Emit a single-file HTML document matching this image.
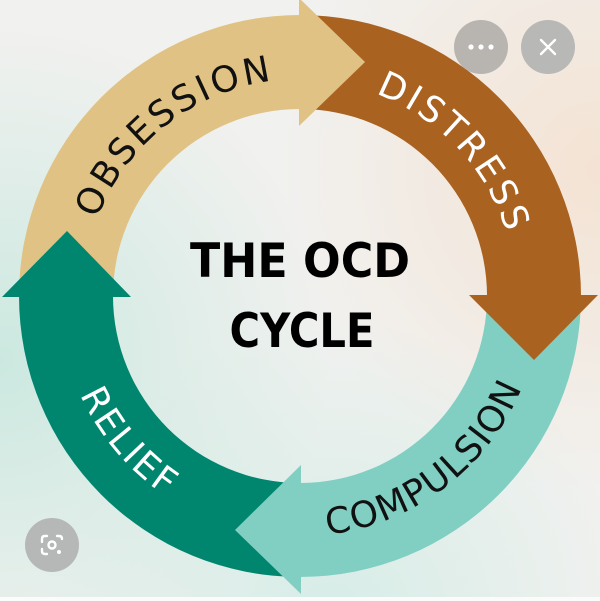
<!DOCTYPE html>
<html>
<head>
<meta charset="utf-8">
<style>
html,body{margin:0;padding:0;background:#f1f1ef;}
svg{display:block;}
</style>
</head>
<body>
<svg width="600" height="601" viewBox="0 0 600 601" xmlns="http://www.w3.org/2000/svg">
  <defs>
    <radialGradient id="gTeal" cx="0" cy="360" r="330" gradientUnits="userSpaceOnUse">
      <stop offset="0" stop-color="#c9e8df" stop-opacity="0.95"/>
      <stop offset="1" stop-color="#c9e8df" stop-opacity="0"/>
    </radialGradient>
    <radialGradient id="gTeal2" cx="330" cy="620" r="300" gradientUnits="userSpaceOnUse">
      <stop offset="0" stop-color="#d3ece6" stop-opacity="0.9"/>
      <stop offset="1" stop-color="#d3ece6" stop-opacity="0"/>
    </radialGradient>
    <radialGradient id="gWarm" cx="600" cy="170" r="320" gradientUnits="userSpaceOnUse">
      <stop offset="0" stop-color="#f4e2d2" stop-opacity="0.95"/>
      <stop offset="1" stop-color="#f4e2d2" stop-opacity="0"/>
    </radialGradient>
    <path id="pObs" d="M 85.1 326.2 A 217 217 0 0 1 381.3 94.8"/>
    <path id="pDis" d="M 251.4 85.5 A 216 216 0 0 1 506.6 359.2"/>
    <path id="pCom" d="M 207 517.3 A 240 240 0 0 0 538.1 265.9"/>
    <path id="pRel" d="M 73 215.1 A 241 241 0 0 0 343.5 533"/>
  </defs>

  <!-- background -->
  <rect x="0" y="0" width="600" height="601" fill="#f1f1ef"/>
  <rect x="0" y="0" width="600" height="601" fill="url(#gWarm)"/>
  <rect x="0" y="0" width="600" height="601" fill="url(#gTeal2)"/>
  <rect x="0" y="0" width="600" height="601" fill="url(#gTeal)"/>
  <rect x="0" y="597" width="600" height="4" fill="#fbfbfb"/>

  <!-- ring bodies -->
  <path d="M 19 296 A 281 281 0 0 1 300 15 L 300 109 A 187 187 0 0 0 113 296 Z" fill="#dfc284"/>
  <path d="M 300 15 A 281 281 0 0 1 581 296 L 487 296 A 187 187 0 0 0 300 109 Z" fill="#a9621f"/>
  <path d="M 581 296 A 281 281 0 0 1 300 577 L 300 483 A 187 187 0 0 0 487 296 Z" fill="#80cfc2"/>
  <path d="M 300 577 A 281 281 0 0 1 19 296 L 113 296 A 187 187 0 0 0 300 483 Z" fill="#00866f"/>

  <!-- arrowheads (bases overlap own body to avoid seams) -->
  <polygon points="299,-2 299,126 365,62" fill="#dfc284"/>
  <polygon points="469,295 598,295 534,360" fill="#a9621f"/>
  <polygon points="301,465 301,594 235,530" fill="#80cfc2"/>
  <polygon points="2,297 131,297 67,231" fill="#00866f"/>

  <!-- arc labels -->
  <text font-family="'DejaVu Sans','Liberation Sans',sans-serif" font-size="36" fill="#111" letter-spacing="3">
    <textPath href="#pObs" startOffset="50%" text-anchor="middle">OBSESSION</textPath>
  </text>
  <text font-family="'DejaVu Sans','Liberation Sans',sans-serif" font-size="36" fill="#ffffff" letter-spacing="3">
    <textPath href="#pDis" startOffset="50%" text-anchor="middle">DISTRESS</textPath>
  </text>
  <text font-family="'DejaVu Sans','Liberation Sans',sans-serif" font-size="36" fill="#111" letter-spacing="1.5">
    <textPath href="#pCom" startOffset="50%" text-anchor="middle">COMPULSION</textPath>
  </text>
  <text font-family="'DejaVu Sans','Liberation Sans',sans-serif" font-size="36" fill="#ffffff" letter-spacing="2.5">
    <textPath href="#pRel" startOffset="50%" text-anchor="middle">RELIEF</textPath>
  </text>

  <!-- center title -->
  <text x="300" y="277" font-family="'DejaVu Sans','Liberation Sans',sans-serif" font-weight="bold" font-size="47" fill="#000" text-anchor="middle" textLength="220" lengthAdjust="spacingAndGlyphs">THE OCD</text>
  <text x="302" y="347" font-family="'DejaVu Sans','Liberation Sans',sans-serif" font-weight="bold" font-size="47" fill="#000" text-anchor="middle" textLength="145" lengthAdjust="spacingAndGlyphs">CYCLE</text>

  <!-- overlay buttons -->
  <circle cx="481" cy="47" r="27" fill="#b3b0ad" fill-opacity="0.92"/>
  <circle cx="471" cy="47" r="2.6" fill="#fff"/>
  <circle cx="481" cy="47" r="2.6" fill="#fff"/>
  <circle cx="491" cy="47" r="2.6" fill="#fff"/>

  <circle cx="548" cy="47" r="27" fill="#b3b3b3" fill-opacity="0.92"/>
  <path d="M 541 40 L 555 54 M 555 40 L 541 54" stroke="#fff" stroke-width="2.4" stroke-linecap="round"/>

  <circle cx="52" cy="545" r="27" fill="#b1b3b2" fill-opacity="0.92"/>
  <g fill="none" stroke="#fff" stroke-width="2.4" stroke-linecap="round">
    <path d="M 42 542 L 42 539 Q 42 536 45 536 L 47 536"/>
    <path d="M 57 536 L 59 536 Q 62 536 62 539"/>
    <path d="M 42 549 L 42 551 Q 42 554 45 554 L 47 554"/>
    <circle cx="52" cy="545" r="3.5"/>
  </g>
  <circle cx="59" cy="552" r="2" fill="#fff"/>
</svg>
</body>
</html>
